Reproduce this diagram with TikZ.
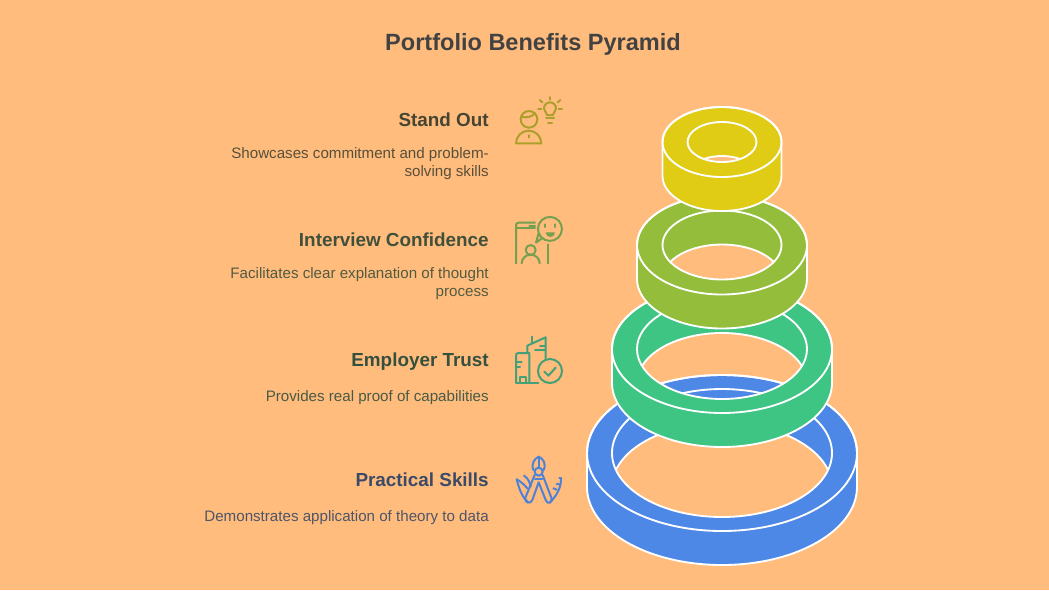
\documentclass[tikz,border=0pt]{standalone}
\usepackage{fontspec}
\setmainfont{Liberation Sans}
\definecolor{pagebg}{HTML}{FFBC7D}
\definecolor{txtdark}{HTML}{424242}
\definecolor{ringyellow}{HTML}{E0CB15}
\definecolor{ringolive}{HTML}{93BD3A}
\definecolor{ringgreen}{HTML}{3EC584}
\definecolor{ringblue}{HTML}{4E88E7}
\definecolor{icoyellow}{HTML}{AD9F2C}
\definecolor{icoolive}{HTML}{74A04F}
\definecolor{icogreen}{HTML}{43A078}
\definecolor{icoblue}{HTML}{4D82D6}
\definecolor{txtyellow}{HTML}{464432}
\definecolor{txtolive}{HTML}{40503A}
\definecolor{txtgreen}{HTML}{35503F}
\definecolor{txtblue}{HTML}{3B4A66}
\tikzset{
  pagetitle/.style={inner sep=0pt, font=\fontsize{17.65}{22}\selectfont\bfseries, text=txtdark},
  heading/.style={anchor=base east, inner sep=0pt, font=\fontsize{14.15}{18}\selectfont\bfseries},
  blurb/.style={anchor=east, inner sep=0pt, align=right, font=\fontsize{11.35}{13.5}\selectfont, text opacity=0.9},
  ringline/.style={draw=white, line width=1.4pt},
  icon/.style={line width=1.5pt, line cap=round, line join=round},
}
\begin{document}
\begin{tikzpicture}[x=0.75pt,y=-0.75pt]
        \useasboundingbox (0,0) rectangle (1049,590);
        \fill[pagebg] (0,0) rectangle (1049,590);
        % rings, bottom one first
        \foreach \cy/\rxo/\ryo/\rxi/\ryi/\col in {453/135/78/110/64/ringblue, 349/110/64/85/50/ringgreen, 245/85/49.5/59.5/34.5/ringolive, 142/59.5/35/34.5/20/ringyellow}{
            \pgfmathsetmacro{\ang}{asin(17/\ryi)}
            \fill[\col, even odd rule]
                (722-\rxo,\cy) arc[start angle=180, end angle=360, x radius=\rxo, y radius=\ryo]
                -- (722+\rxo,\cy+34) arc[start angle=0, end angle=180, x radius=\rxo, y radius=\ryo] -- cycle
                ({722+\rxi*cos(\ang)},\cy+17) arc[start angle=\ang, end angle=180-\ang, x radius=\rxi, y radius=\ryi]
                arc[start angle=180+\ang, end angle=360-\ang, x radius=\rxi, y radius=\ryi] -- cycle;
            \draw[ringline] (722-\rxo,\cy) arc[start angle=180, end angle=360, x radius=\rxo, y radius=\ryo]
                -- (722+\rxo,\cy+34) arc[start angle=0, end angle=180, x radius=\rxo, y radius=\ryo] -- cycle;
            \draw[ringline] (722,\cy) ellipse[x radius=\rxo, y radius=\ryo];
            \draw[ringline] (722,\cy) ellipse[x radius=\rxi, y radius=\ryi];
            \draw[ringline] ({722-\rxi*cos(\ang)},\cy+17) arc[start angle=180+\ang, end angle=360-\ang, x radius=\rxi, y radius=\ryi];
        }
        % texts
        \node[pagetitle] (title) at (533,44) {Portfolio Benefits Pyramid};
        \node[heading, text=txtyellow] (standhead) at (489,126.5) {Stand Out};
        \node[blurb, text=txtyellow] (standtext) at (489,164) {Showcases commitment and problem-\\solving skills};
        \node[heading, text=txtolive] (interviewhead) at (489,246.5) {Interview Confidence};
        \node[blurb, text=txtolive] (interviewtext) at (489,284) {Facilitates clear explanation of thought\\process};
        \node[heading, text=txtgreen] (trusthead) at (489,366.5) {Employer Trust};
        \node[blurb, text=txtgreen] (trusttext) at (489,398) {Provides real proof of capabilities};
        \node[heading, text=txtblue] (skillshead) at (489,486.5) {Practical Skills};
        \node[blurb, text=txtblue] (skillstext) at (489,518) {Demonstrates application of theory to data};
        % icon: person and bulb
        \begin{scope}[icon, draw=icoyellow, shift={(500,85)}, x=0.25pt, y=-0.25pt]
            \draw (87,103) circle[radius=25];
            \draw (63,95) .. controls (80,100) and (98,95) .. (105,84);
            \draw (48,175) arc[start angle=180, end angle=360, x radius=38, y radius=38] -- cycle;
            \draw (87,150) -- (87,158);
            \draw (141,90) .. controls (138,78) and (132,80) .. (132,70) arc[start angle=180, end angle=360, radius=18] .. controls (168,80) and (162,78) .. (159,90) -- cycle;
            \draw (138,100) -- (162,100);
            \draw (144,113) -- (156,113);
            \draw (150,36) -- (150,44);
            \draw (119,45) -- (127,52);
            \draw (181,45) -- (173,52);
            \draw (114,71) -- (124,71);
            \draw (176,71) -- (186,71);
        \end{scope}
        % icon: phone and chat
        \begin{scope}[icon, draw=icoolive, shift={(500,205)}, x=0.25pt, y=-0.25pt]
            \draw (48,175) -- (48,62) .. controls (48,56) and (50,53) .. (56,53) -- (105,53);
            \draw (50,70) -- (105,70);
            \draw (88,62) -- (105,62);
            \draw (143,118) -- (143,175);
            \draw (116,84) arc[start angle=160, end angle=-230, radius=36] -- (108,113) -- cycle;
            \draw (135,58) -- (135,66);
            \draw (164,58) -- (164,66);
            \fill[icoolive] (137,82) -- (165,82) arc[start angle=0, end angle=180, radius=14] -- cycle;
            \draw (92,135) circle[radius=15];
            \draw (65,175) arc[start angle=180, end angle=360, x radius=27, y radius=26];
        \end{scope}
        % icon: buildings and check
        \begin{scope}[icon, draw=icogreen, shift={(500,325)}, x=0.25pt, y=-0.25pt]
            \draw (48,173) -- (48,92) .. controls (48,86) and (50,84) .. (56,84) -- (88,84) -- (88,173);
            \draw (48,173) -- (115,173);
            \draw (50,110) -- (65,110);
            \draw (50,125) -- (60,125);
            \draw (60,173) -- (60,155) -- (78,155) -- (78,173);
            \draw (82,84) -- (82,62) -- (137,37) -- (137,100);
            \draw (95,35) -- (95,55);
            \draw (105,75) -- (137,75);
            \draw (120,62) -- (137,62);
            \draw (150,138) circle[radius=36];
            \draw (133,140) -- (145,152) -- (167,128);
        \end{scope}
        % icon: multitool
        \begin{scope}[icon, draw=icoblue, shift={(500,445)}, x=0.25pt, y=-0.25pt]
            \draw (100,75) .. controls (92,55) and (105,40) .. (116,35) .. controls (128,40) and (140,55) .. (131,75);
            \draw (116,35) -- (116,68);
            \draw (116,80) circle[radius=12];
            \draw (104,90) -- (76,158) .. controls (72,172) and (92,180) .. (97,165) -- (116,112) -- (137,165) .. controls (142,180) and (160,174) .. (154,158) -- (128,90);
            \draw (105,102) -- (127,102);
            \draw (50,103) .. controls (62,110) and (72,118) .. (82,130);
            \draw (50,103) .. controls (58,135) and (68,158) .. (84,172);
            \draw (72,92) .. controls (84,100) and (90,112) .. (92,125);
            \draw (183,100) .. controls (184,125) and (172,150) .. (150,172);
            \draw (178,100) -- (183,100);
            \draw (170,117) -- (178,118);
            \draw (160,130) -- (170,134);
        \end{scope}
\end{tikzpicture}
\end{document}
